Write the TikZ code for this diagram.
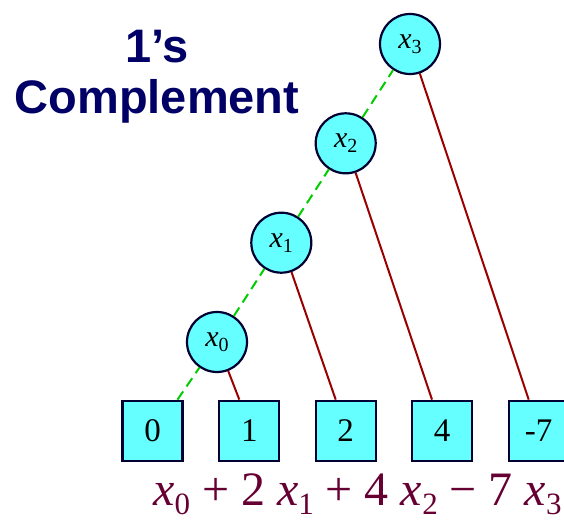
\documentclass[tikz,border=0pt]{standalone}
\usepackage{fontspec}
\setmainfont{Liberation Serif}
\newfontfamily\headfont{Liberation Sans}

\definecolor{cellfill}{HTML}{66FFFF}
\definecolor{cellline}{HTML}{000033}
\definecolor{tapred}{HTML}{990000}
\definecolor{chaingreen}{HTML}{00CC00}
\definecolor{headblue}{HTML}{000066}
\definecolor{summaroon}{HTML}{660033}

% small bit label and large term of the sum
\newcommand{\bitlab}[1]{{\fontsize{30}{30}\selectfont\itshape x}\raisebox{-5pt}{\fontsize{20}{20}\selectfont #1}}
\newcommand{\bitterm}[1]{{\itshape x}\raisebox{-9pt}{\fontsize{31}{31}\selectfont #1}}

\tikzset{
  bit/.style={circle, draw=cellline, line width=2.2pt, fill=cellfill, minimum size=60pt, inner sep=0pt},
  coef/.style={rectangle, draw=cellline, line width=2.2pt, fill=cellfill, minimum width=60pt, minimum height=60pt, inner sep=0pt, font=\fontsize{33}{33}\selectfont},
  chain/.style={draw=chaingreen, line width=2pt, dash pattern=on 10pt off 6pt},
  tap/.style={draw=tapred, line width=2pt},
  head/.style={text=headblue, font=\headfont\bfseries\fontsize{47}{47}\selectfont, anchor=base}
}

\begin{document}
\begin{tikzpicture}[x=1pt,y=-1pt]
  \useasboundingbox (0,0) rectangle (564,522);
  \clip (0,0) rectangle (564,522);

  % title
  \node[head] (head1) at (157,62) {1’s};
  \node[head] (head2) at (157,113) {Complement};

  % weights
  \node[coef] (w0) at (152.5,430.7) {0};
  \node[coef] (w1) at (249.3,430.7) {1};
  \node[coef] (w2) at (345.7,430.7) {2};
  \node[coef] (w3) at (442,430.7) {4};
  \node[coef] (w4) at (538.7,430.7) {-7};

  % bits
  \node[bit] (b0) at (217,342) {\bitlab{0}};
  \node[bit] (b1) at (281.3,242.7) {\bitlab{1}};
  \node[bit] (b2) at (345.7,143.3) {\bitlab{2}};
  \node[bit] (b3) at (410,44) {\bitlab{3}};

  \draw[chain] ([xshift=25pt]w0.north) -- (b0) -- (b1) -- (b2) -- (b3);
  \draw[tap] (b0) -- ([xshift=-10pt]w1.north);
  \draw[tap] (b1) -- ([xshift=-10pt]w2.north);
  \draw[tap] (b2) -- ([xshift=-10pt]w3.north);
  \draw[tap] (b3) -- ([xshift=-10pt]w4.north);

  % value
  \node[text=summaroon, font=\fontsize{48}{48}\selectfont, anchor=base west, inner sep=0pt] (total) at (153,505)
    {\bitterm{0} + 2 \bitterm{1} + 4 \bitterm{2} − 7 \bitterm{3}};
\end{tikzpicture}
\end{document}
